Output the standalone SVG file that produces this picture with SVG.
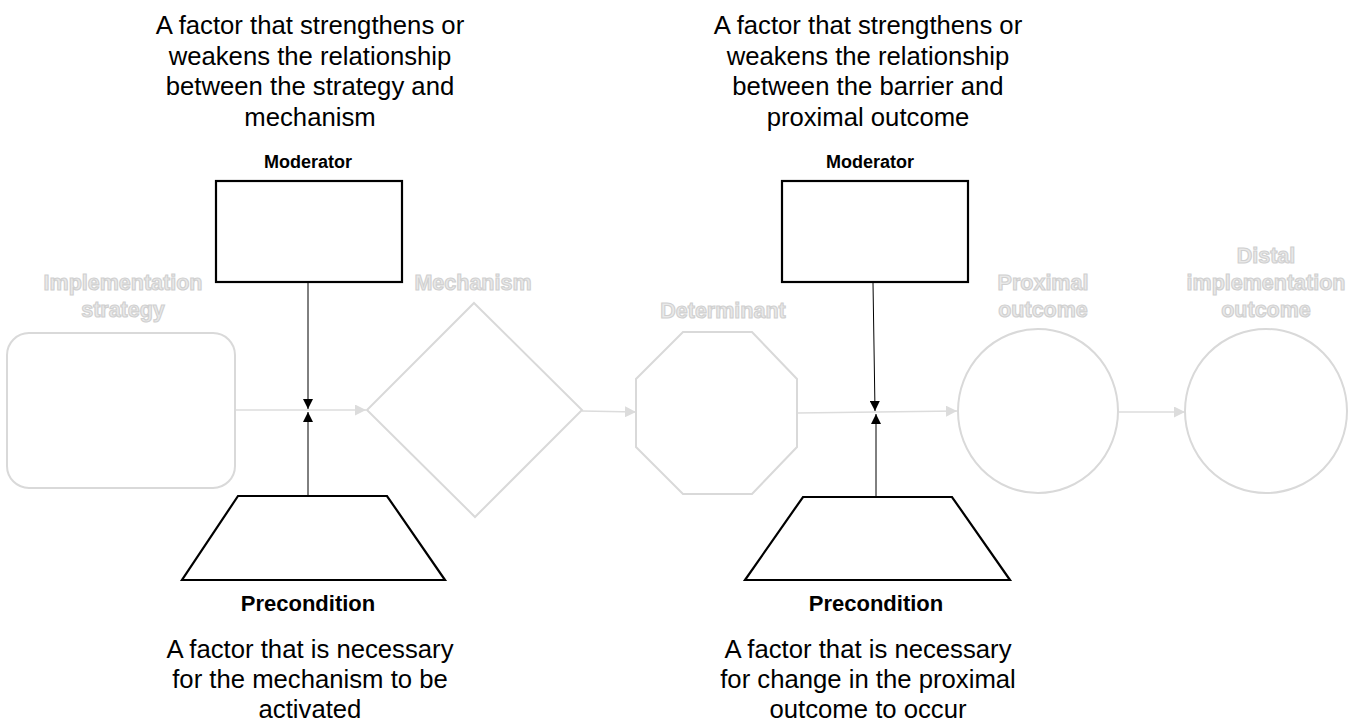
<svg xmlns="http://www.w3.org/2000/svg" width="1352" height="723" viewBox="0 0 1352 723">
  <style>
    .desc { font-family: "Liberation Sans", Arial, sans-serif; font-size: 25.7px; fill: #000; text-anchor: middle; }
    .role { font-family: "Liberation Sans", Arial, sans-serif; font-size: 18px; font-weight: bold; fill: #000; text-anchor: middle; }
    .role-lg { font-family: "Liberation Sans", Arial, sans-serif; font-size: 22px; font-weight: bold; fill: #000; text-anchor: middle; }
    .ghost { font-family: "Liberation Sans", Arial, sans-serif; font-size: 21.5px; font-weight: bold; fill: #e9e9e9; stroke: #d0d0d0; stroke-width: 1.1; text-anchor: middle; }
    .faint { fill: #fff; stroke: #d9d9d9; stroke-width: 2; }
    .bold { fill: #fff; stroke: #000; stroke-width: 2.2; }
    .flow { stroke: #dcdcdc; stroke-width: 1.5; fill: none; marker-end: url(#grayHead); }
    .link { stroke: #000; stroke-width: 1; fill: none; marker-end: url(#blackHead); }
  </style>
  <defs>
    <marker id="grayHead" viewBox="0 0 10 10" refX="10" refY="5" markerUnits="userSpaceOnUse" markerWidth="11" markerHeight="11" orient="auto">
      <path d="M0,0 L10,5 L0,10 Z" fill="#dcdcdc"/>
    </marker>
    <marker id="blackHead" viewBox="0 0 10 10" refX="10" refY="5" markerUnits="userSpaceOnUse" markerWidth="10" markerHeight="10" orient="auto">
      <path d="M0,0 L10,5 L0,10 Z" fill="#000"/>
    </marker>
  </defs>

  <rect width="1352" height="723" fill="#fff"/>

  <!-- connectors -->
  <g id="connectors">
    <line class="flow" x1="235" y1="410" x2="366" y2="410"/>
    <line class="flow" x1="582" y1="411" x2="636" y2="412"/>
    <line class="flow" x1="797" y1="413" x2="957" y2="411"/>
    <line class="flow" x1="1119" y1="412" x2="1185" y2="412"/>
    <line class="link" x1="308" y1="283" x2="308" y2="409"/>
    <line class="link" x1="308" y1="496" x2="308" y2="412"/>
    <line class="link" x1="873" y1="283" x2="875" y2="411"/>
    <line class="link" x1="876" y1="497" x2="876" y2="414"/>
  </g>

  <!-- chain nodes -->
  <g id="strategy">
    <rect class="faint" x="7" y="333" width="228" height="155" rx="22" ry="22"/>
    <text class="ghost" x="123" y="290">Implementation</text>
    <text class="ghost" x="123" y="317">strategy</text>
  </g>
  <g id="mechanism">
    <polygon class="faint" points="474,303 582,410 475,517 367,410"/>
    <text class="ghost" x="473" y="290">Mechanism</text>
  </g>
  <g id="determinant">
    <polygon class="faint" points="683,332 752,332 797,379 797,447 752,494 683,494 636,447 636,379"/>
    <text class="ghost" x="723" y="318">Determinant</text>
  </g>
  <g id="proximal">
    <ellipse class="faint" cx="1038" cy="411" rx="80" ry="82"/>
    <text class="ghost" x="1043" y="290">Proximal</text>
    <text class="ghost" x="1043" y="317">outcome</text>
  </g>
  <g id="distal">
    <ellipse class="faint" cx="1266" cy="411" rx="81" ry="82"/>
    <text class="ghost" x="1266" y="263">Distal</text>
    <text class="ghost" x="1266" y="290">implementation</text>
    <text class="ghost" x="1266" y="317">outcome</text>
  </g>

  <!-- moderators -->
  <g id="moderator-1">
    <text class="desc" x="310" y="34">A factor that strengthens or</text>
    <text class="desc" x="310" y="64.5">weakens the relationship</text>
    <text class="desc" x="310" y="95">between the strategy and</text>
    <text class="desc" x="310" y="125.5">mechanism</text>
    <text class="role" x="308" y="168">Moderator</text>
    <rect class="bold" x="216" y="181" width="186" height="101"/>
  </g>
  <g id="moderator-2">
    <text class="desc" x="868" y="34">A factor that strengthens or</text>
    <text class="desc" x="868" y="64.5">weakens the relationship</text>
    <text class="desc" x="868" y="95">between the barrier and</text>
    <text class="desc" x="868" y="125.5">proximal outcome</text>
    <text class="role" x="870" y="168">Moderator</text>
    <rect class="bold" x="782" y="181" width="186" height="101"/>
  </g>

  <!-- preconditions -->
  <g id="precondition-1">
    <polygon class="bold" points="238,496 387,496 445,580 182,580"/>
    <text class="role-lg" x="308" y="611">Precondition</text>
    <text class="desc" x="310" y="658">A factor that is necessary</text>
    <text class="desc" x="310" y="688">for the mechanism to be</text>
    <text class="desc" x="310" y="718">activated</text>
  </g>
  <g id="precondition-2">
    <polygon class="bold" points="803,497 952,497 1010,580 745,580"/>
    <text class="role-lg" x="876" y="611">Precondition</text>
    <text class="desc" x="868" y="658">A factor that is necessary</text>
    <text class="desc" x="868" y="688">for change in the proximal</text>
    <text class="desc" x="868" y="718">outcome to occur</text>
  </g>
</svg>
